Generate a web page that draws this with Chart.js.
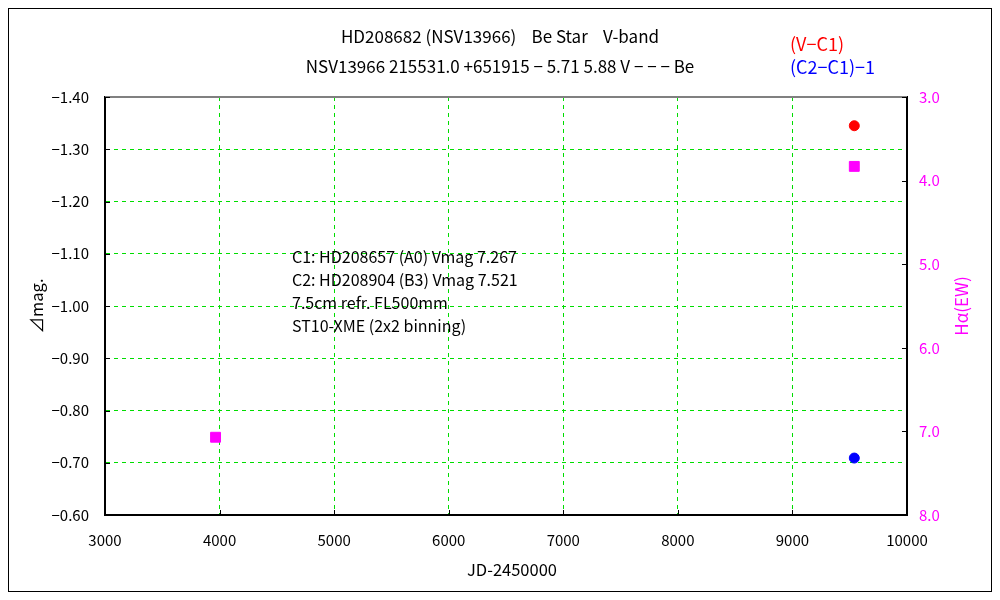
<!DOCTYPE html>
<html>
<head>
<meta charset="utf-8">
<script src="https://cdn.jsdelivr.net/npm/chart.js@4/dist/chart.umd.min.js"></script>
<style>
  html, body { margin: 0; padding: 0; background: #fff; }
  #wrap { width: 1000px; height: 600px; }
</style>
</head>
<body>
<div id="wrap"><canvas id="lc"></canvas></div>
<script>
// Data
const jdV = [9540];          // (V-C1)
const magV = [-1.345];
const jdCheck = [9540];      // (C2-C1)-1
const magCheck = [-0.709];
const jdHa = [3965, 9540];   // H-alpha EW
const ewHa = [7.07, 3.83];

const titleLines = [
    'HD208682 (NSV13966)    Be Star    V-band',
    'NSV13966 215531.0 +651915 \u2212 5.71 5.88 V \u2212 \u2212 \u2212 Be'
];
const noteLines = [
    'C1: HD208657 (A0) Vmag 7.267',
    'C2: HD208904 (B3) Vmag 7.521',
    '7.5cm refr. FL500mm',
    'ST10-XME (2x2 binning)'
];

const FONT = '"Noto Sans CJK JP", "DejaVu Sans", sans-serif';
const GREEN = '#00dd00';
const MAGENTA = '#ff00ff';

const toPts = (xs, ys) => xs.map((x, i) => ({ x: x, y: ys[i] }));
const minus = s => s.replace('-', '\u2212');

// Extra drawing: frame, titles, legend, notes, axis titles, inward ticks
const decorPlugin = {
    id: 'decor',
    afterDraw(chart) {
        const ctx = chart.ctx;
        const a = chart.chartArea;
        const sx = chart.scales.x, sy = chart.scales.y, sy2 = chart.scales.y2;
        ctx.save();

        // outer frame
        ctx.strokeStyle = '#000';
        ctx.lineWidth = 1;
        ctx.strokeRect(8.5, 8.5, 983, 583);

        // top border of plot
        ctx.strokeStyle = '#808080';
        ctx.lineWidth = 2;
        ctx.beginPath();
        ctx.moveTo(a.left, a.top);
        ctx.lineTo(a.right, a.top);
        ctx.stroke();

        // inward ticks
        ctx.strokeStyle = '#000';
        ctx.lineWidth = 1;
        ctx.beginPath();
        sy.ticks.forEach(t => {
            const p = Math.round(sy.getPixelForValue(t.value)) + 0.5;
            ctx.moveTo(a.left, p); ctx.lineTo(a.left + 5, p);
        });
        sy2.ticks.forEach(t => {
            const p = Math.round(sy2.getPixelForValue(t.value)) + 0.5;
            ctx.moveTo(a.right, p); ctx.lineTo(a.right - 5, p);
        });
        sx.ticks.forEach(t => {
            const p = Math.round(sx.getPixelForValue(t.value)) + 0.5;
            ctx.moveTo(p, a.bottom); ctx.lineTo(p, a.bottom - 5);
        });
        ctx.stroke();

        // titles
        ctx.fillStyle = '#000';
        ctx.font = '17px ' + FONT;
        ctx.textAlign = 'center';
        ctx.textBaseline = 'middle';
        ctx.fillText(titleLines[0], 500, 37);
        ctx.fillText(titleLines[1], 500, 67);

        // legend
        ctx.textAlign = 'left';
        ctx.font = '18px ' + FONT;
        ctx.fillStyle = '#ff0000';
        ctx.fillText('(V\u2212C1)', 790, 44);
        ctx.fillStyle = '#0000ff';
        ctx.fillText('(C2\u2212C1)\u22121', 790, 67);

        // notes
        ctx.fillStyle = '#000';
        ctx.font = '16px ' + FONT;
        noteLines.forEach((s, i) => ctx.fillText(s, 292, 257 + i * 23));

        // axis titles
        ctx.textAlign = 'center';
        ctx.font = '16.5px ' + FONT;
        ctx.fillText('JD-2450000', (a.left + a.right) / 2 + 6, 570);

        ctx.save();
        ctx.translate(37, (a.top + a.bottom) / 2);
        ctx.rotate(-Math.PI / 2);
        ctx.fillText('\u22BFmag.', 0, 0);
        ctx.restore();

        ctx.save();
        ctx.fillStyle = MAGENTA;
        ctx.font = '17px ' + FONT;
        ctx.translate(962, (a.top + a.bottom) / 2);
        ctx.rotate(-Math.PI / 2);
        ctx.fillText('H\u03B1(EW)', 0, 0);
        ctx.restore();

        ctx.restore();
    }
};

const gridColor = ctx => (ctx.index === 0 || ctx.index === ctx.chart.scales[ctx.scale.id].ticks.length - 1) ? 'rgba(0,0,0,0)' : GREEN;

new Chart(document.getElementById('lc'), {
    type: 'scatter',
    data: {
        datasets: [{
            label: '(V-C1)',
            data: toPts(jdV, magV),
            yAxisID: 'y',
            pointStyle: 'circle',
            pointRadius: 5,
            backgroundColor: '#ff0000',
            borderColor: '#ff0000'
        }, {
            label: '(C2-C1)-1',
            data: toPts(jdCheck, magCheck),
            yAxisID: 'y',
            pointStyle: 'circle',
            pointRadius: 5,
            backgroundColor: '#0000ff',
            borderColor: '#0000ff'
        }, {
            label: 'H-alpha(EW)',
            data: toPts(jdHa, ewHa),
            yAxisID: 'y2',
            pointStyle: 'rect',
            pointRadius: 7,
            backgroundColor: MAGENTA,
            borderColor: MAGENTA
        }]
    },
    options: {
        responsive: true,
        maintainAspectRatio: false,
        animation: false,
        layout: { padding: { top: 97, left: 0, right: 0, bottom: 0 } },
        plugins: {
            legend: { display: false },
            tooltip: { enabled: false }
        },
        scales: {
            x: {
                type: 'linear',
                min: 3000,
                max: 10000,
                ticks: {
                    stepSize: 1000,
                    color: '#000',
                    padding: 16,
                    font: { family: FONT, size: 15 },
                    callback: v => String(v)
                },
                grid: { color: gridColor, drawTicks: false },
                border: { color: '#000', width: 2, dash: [4, 4] },
                afterFit: s => { s.height = 85; }
            },
            y: {
                position: 'left',
                reverse: true,
                min: -1.4,
                max: -0.6,
                ticks: {
                    stepSize: 0.1,
                    color: '#000',
                    padding: 16,
                    font: { family: FONT, size: 15 },
                    callback: v => minus(v.toFixed(2))
                },
                grid: { color: gridColor, drawTicks: false },
                border: { color: '#000', width: 2, dash: [4, 4] },
                afterFit: s => { s.width = 105; }
            },
            y2: {
                position: 'right',
                reverse: true,
                min: 3,
                max: 8,
                ticks: {
                    stepSize: 1,
                    color: MAGENTA,
                    padding: 12,
                    font: { family: FONT, size: 15 },
                    callback: v => v.toFixed(1)
                },
                grid: { drawOnChartArea: false, drawTicks: false },
                border: { color: '#000', width: 2 },
                afterFit: s => { s.width = 93; }
            }
        }
    },
    plugins: [decorPlugin]
});
</script>
</body>
</html>
